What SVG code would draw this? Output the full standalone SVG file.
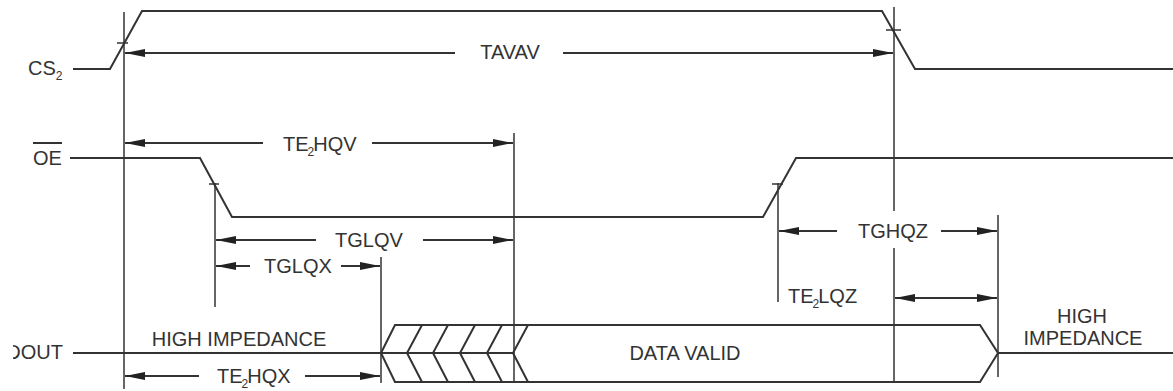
<svg xmlns="http://www.w3.org/2000/svg" width="1173" height="391" viewBox="0 0 1173 391">
<style>
.sig{fill:none;stroke:#333;stroke-width:2;stroke-linejoin:miter}
.ref{fill:none;stroke:#666;stroke-width:2}
.dim{fill:none;stroke:#333;stroke-width:2}
.tick{stroke:#333;stroke-width:1.5}
text{font-family:"Liberation Sans",Arial,sans-serif;font-size:20px;fill:#333}
.sub{font-size:12px}
.mid{text-anchor:middle}
</style>
<defs>
<marker id="ah" viewBox="0 0 20 10" refX="20" refY="5" markerWidth="20" markerHeight="10" markerUnits="userSpaceOnUse" orient="auto-start-reverse">
<path d="M0,1 L20,5 L0,9 Z" fill="#222"/>
</marker>
<clipPath id="dclip"><rect x="13" y="330" width="60" height="40"/></clipPath>
</defs>
<rect width="1173" height="391" fill="#fff"/>
<g id="reflines">
<line class="ref" x1="124" y1="12" x2="124" y2="389"/>
<line class="ref" x1="894" y1="7" x2="894" y2="211"/>
<line class="ref" x1="894" y1="248" x2="894" y2="382"/>
<line class="ref" x1="514" y1="133" x2="514" y2="383"/>
<line class="ref" x1="381" y1="257" x2="381" y2="383"/>
<line class="ref" x1="215" y1="183" x2="215" y2="307"/>
<line class="ref" x1="778" y1="183" x2="778" y2="302"/>
<line class="ref" x1="998" y1="215" x2="998" y2="377"/>
</g>
<g id="cs2">
<path class="sig" d="M73,69 L110,69 L142,11 L882,11 L915,69 L1173,69"/>
<line class="tick" x1="117" y1="43" x2="128" y2="43"/>
<line class="tick" x1="886" y1="30" x2="901" y2="30"/>
<text x="28" y="75">CS<tspan class="sub" dy="5">2</tspan></text>
</g>
<g id="oe">
<path class="sig" d="M70,158 L200,158 L232,217 L763,217 L796,158 L1173,158"/>
<line class="tick" x1="209" y1="184" x2="219" y2="184"/>
<line class="tick" x1="772" y1="184" x2="783" y2="184"/>
<text x="33" y="165">OE</text>
<line x1="33" y1="143" x2="62" y2="143" stroke="#333" stroke-width="2"/>
</g>
<g id="dout">
<path class="sig" d="M73,353 L381,353"/>
<path class="sig" d="M998,353 L1173,353"/>
<path class="sig" d="M381,353 L395,325 L980,325 L998,353 L980,382 L395,382 Z"/>
<path class="sig" d="M381,353 L513,353"/>
<path class="sig" d="M422,325 L407,353 L422,382 M448,325 L433,353 L448,382 M475,325 L460,353 L475,382 M502,325 L487,353 L502,382 M528,325 L513,353 L528,382"/>
<text x="63" y="359" text-anchor="end" clip-path="url(#dclip)">DOUT</text>
<text class="mid" x="239" y="346">HIGH IMPEDANCE</text>
<text class="mid" x="685" y="360">DATA VALID</text>
<text class="mid" x="1082" y="323">HIGH</text>
<text class="mid" x="1083" y="345">IMPEDANCE</text>
</g>
<g id="connectors">
<line class="dim" x1="455" y1="53" x2="125" y2="53" marker-end="url(#ah)"/>
<line class="dim" x1="563" y1="53" x2="893" y2="53" marker-end="url(#ah)"/>
<line class="dim" x1="263" y1="143" x2="125" y2="143" marker-end="url(#ah)"/>
<line class="dim" x1="372" y1="143" x2="513" y2="143" marker-end="url(#ah)"/>
<line class="dim" x1="316" y1="240" x2="216" y2="240" marker-end="url(#ah)"/>
<line class="dim" x1="423" y1="240" x2="513" y2="240" marker-end="url(#ah)"/>
<line class="dim" x1="250" y1="266" x2="216" y2="266" marker-end="url(#ah)"/>
<line class="dim" x1="341" y1="266" x2="380" y2="266" marker-end="url(#ah)"/>
<line class="dim" x1="837" y1="231" x2="779" y2="231" marker-end="url(#ah)"/>
<line class="dim" x1="941" y1="231" x2="997" y2="231" marker-end="url(#ah)"/>
<line class="dim" x1="895" y1="298" x2="997" y2="298" marker-start="url(#ah)" marker-end="url(#ah)"/>
<line class="dim" x1="199" y1="376" x2="125" y2="376" marker-end="url(#ah)"/>
<line class="dim" x1="305" y1="376" x2="380" y2="376" marker-end="url(#ah)"/>
</g>
<g id="labels">
<text class="mid" x="510" y="59">TAVAV</text>
<text x="283" y="151">TE<tspan class="sub" dy="5" dx="-1">2</tspan><tspan dy="-5" dx="-1">HQV</tspan></text>
<text class="mid" x="369" y="247">TGLQV</text>
<text class="mid" x="298" y="273">TGLQX</text>
<text class="mid" x="893" y="238">TGHQZ</text>
<text x="788" y="303">TE<tspan class="sub" dy="5" dx="-1">2</tspan><tspan dy="-5" dx="-1">LQZ</tspan></text>
<text x="217" y="383">TE<tspan class="sub" dy="5" dx="-1">2</tspan><tspan dy="-5" dx="-1">HQX</tspan></text>
</g>
</svg>
